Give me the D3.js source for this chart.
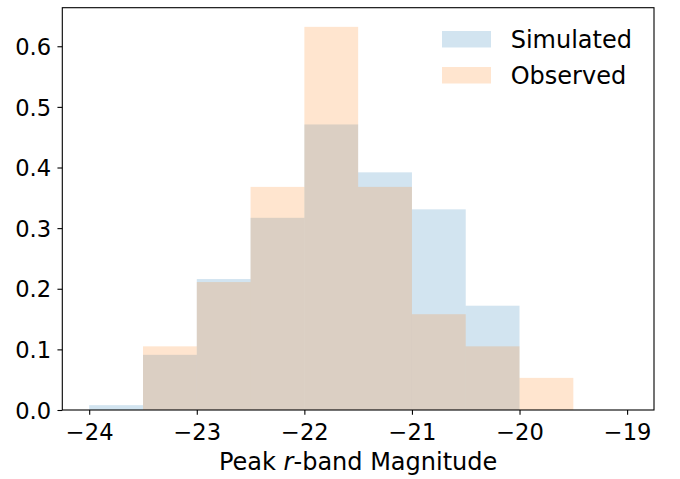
<!DOCTYPE html>
<html>
<head>
<meta charset="utf-8">
<script src="https://cdn.jsdelivr.net/npm/d3@7/dist/d3.min.js"></script>
<style>
  html, body { margin: 0; padding: 0; background: #fff; }
  svg { display: block; }
  text { font-family: "DejaVu Sans", sans-serif; fill: #000; }
</style>
</head>
<body>
<div id="chart"></div>
<script>
// Histogram bin edges (0.5 mag wide) and normalised densities per bin
const binEdges = [-24, -23.5, -23, -22.5, -22, -21.5, -21, -20.5, -20, -19.5, -19];
const simulated = [0.008, 0.091, 0.216, 0.317, 0.471, 0.392, 0.331, 0.172, 0, 0];
const observed  = [0, 0.105, 0.211, 0.368, 0.632, 0.368, 0.158, 0.105, 0.053, 0];
const seriesNames = ["Simulated", "Observed"];
const xTicks = [-24, -23, -22, -21, -20, -19];
const yTicks = [0, 0.1, 0.2, 0.3, 0.4, 0.5, 0.6];

const W = 680, H = 479;
const plot = { left: 62.3, right: 654, top: 7.7, bottom: 410 };
const tickFont = 22.6, labelFont = 24;
const tickLen = 4.86, tickPad = 4.86;
const colors = ["#1f77b4", "#ff7f0e"];

const svg = d3.select("#chart").append("svg")
  .attr("width", W).attr("height", H);

// Data range padded by 5% on each side
const xMin = binEdges[0], xMax = binEdges[binEdges.length - 1];
const xPad = (xMax - xMin) * 0.05;
const x = d3.scaleLinear().domain([xMin - xPad, xMax + xPad]).range([plot.left, plot.right]);
const yMax = d3.max(simulated.concat(observed)) * 1.05;
const y = d3.scaleLinear().domain([0, yMax]).range([plot.bottom, plot.top]);

// Bars for each series, drawn in order so the overlap blends
[simulated, observed].forEach((vals, si) => {
  const bins = vals.map((v, i) => ({ x0: binEdges[i], x1: binEdges[i + 1], v }));
  svg.append("g").selectAll("rect")
    .data(bins.filter(d => d.v > 0))
    .join("rect")
    .attr("x", d => x(d.x0))
    .attr("width", d => x(d.x1) - x(d.x0))
    .attr("y", d => y(d.v))
    .attr("height", d => y(0) - y(d.v))
    .attr("fill", colors[si])
    .attr("fill-opacity", 0.2);
});

// Axes
const xAxis = svg.append("g")
  .attr("transform", `translate(0,${plot.bottom})`)
  .call(d3.axisBottom(x).tickValues(xTicks).tickFormat(d3.format("d")).tickSize(tickLen).tickSizeOuter(0));
xAxis.select(".domain").remove();
xAxis.selectAll(".tick line").attr("stroke", "#000").attr("stroke-width", 1.1);
xAxis.selectAll(".tick text")
  .attr("y", 30).attr("dy", null)
  .style("font-size", tickFont + "px")
  .style("font-family", "DejaVu Sans");

const yAxis = svg.append("g")
  .attr("transform", `translate(${plot.left},0)`)
  .call(d3.axisLeft(y).tickValues(yTicks).tickFormat(d3.format(".1f")).tickSize(tickLen).tickSizeOuter(0));
yAxis.select(".domain").remove();
yAxis.selectAll(".tick line").attr("stroke", "#000").attr("stroke-width", 1.1);
yAxis.selectAll(".tick text")
  .attr("x", -(tickLen + tickPad + 1.5)).attr("dy", "0.36em")
  .style("font-size", tickFont + "px")
  .style("font-family", "DejaVu Sans");

// Frame around the plot area
svg.append("rect")
  .attr("x", plot.left).attr("y", plot.top)
  .attr("width", plot.right - plot.left).attr("height", plot.bottom - plot.top)
  .attr("fill", "none").attr("stroke", "#000").attr("stroke-width", 1.1);

// Axis label with italic r
const xl = svg.append("text")
  .attr("x", (plot.left + plot.right) / 2).attr("y", 470)
  .attr("text-anchor", "middle")
  .style("font-size", labelFont + "px");
xl.append("tspan").text("Peak ");
xl.append("tspan").style("font-style", "italic").text("r");
xl.append("tspan").text("-band Magnitude");

// Legend
const legend = svg.append("g");
seriesNames.forEach((name, i) => {
  const row = legend.append("g").attr("transform", `translate(0,${i * 36})`);
  row.append("rect")
    .attr("x", 442).attr("y", 31).attr("width", 49).attr("height", 16.5)
    .attr("fill", colors[i]).attr("fill-opacity", 0.2);
  row.append("text")
    .attr("x", 510.7).attr("y", 47.7)
    .style("font-size", labelFont + "px")
    .text(name);
});
</script>
</body>
</html>
